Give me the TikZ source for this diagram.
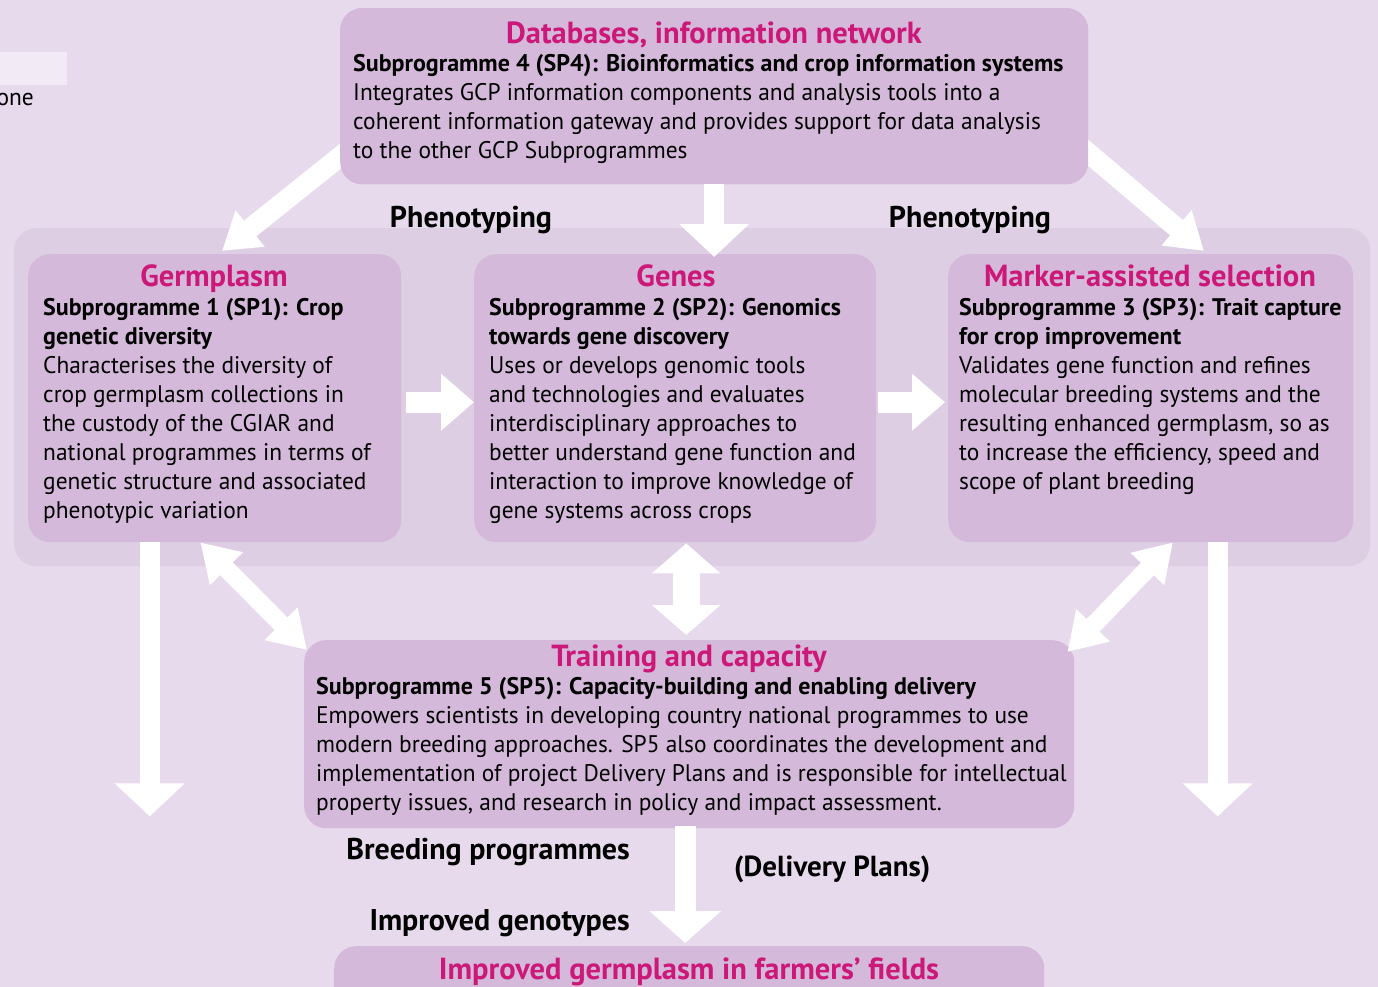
\documentclass[tikz,border=0pt]{standalone}
\usepackage{fontspec}
\setmainfont{PT Sans}[UprightFeatures={FakeStretch=0.975}]
\usetikzlibrary{arrows.meta}
\definecolor{bgc}{HTML}{E6DAEC}
\definecolor{bandc}{HTML}{DDCEE4}
\definecolor{boxc}{HTML}{D4B9DA}
\definecolor{magc}{HTML}{CC1878}
\definecolor{patchc}{HTML}{F2EAF4}
\newcommand\blk[1]{\vtop{\baselineskip=29pt\lineskiplimit=-100pt\halign{##\hfil\cr#1\crcr}}}
\begin{document}
\begin{tikzpicture}[x=1pt,y=-1pt,
  box/.style={fill=boxc,rounded corners=22pt,draw=none,inner sep=0pt,anchor=north west},
  ttl/.style={text=magc,font=\fontsize{30.5}{29}\selectfont\bfseries,inner sep=0pt,anchor=base},
  body/.style={font=\fontsize{24}{29}\selectfont,inner sep=0pt,anchor=base west},
  lbl/.style={font=\fontsize{30}{29}\selectfont\bfseries,inner sep=0pt},
  fat/.style={draw=white,line width=20pt,-{Triangle[length=33pt,width=68pt]}},
  diag/.style={draw=white,line width=20pt,-{Triangle[length=36pt,width=44pt]}},
  dbl/.style={draw=white,line width=18pt,{Triangle[length=37pt,width=44pt]}-{Triangle[length=37pt,width=44pt]}},
  dblv/.style={draw=white,line width=27pt,{Triangle[length=30pt,width=67pt]}-{Triangle[length=30pt,width=67pt]}}]
\useasboundingbox (0,0) rectangle (1378,987);
\fill[bgc] (0,0) rectangle (1378,987);
\fill[patchc] (0,52) rectangle (67,85);
\node[body,anchor=base east] (one) at (34,106) {one};
% band
\node[box,fill=bandc,minimum width=1356pt,minimum height=338pt] (band) at (14,228) {};
% tips of top arrows
\coordinate (tipL) at (222,251);
\coordinate (tipR) at (1204,251);
% top box
\node[box,minimum width=748pt,minimum height=176pt] (top) at (340,8) {};
\draw[diag] ([shift={(8,54)}]top.west) -- (tipL);
\draw[diag] ([shift={(-8,50)}]top.east) -- (tipR);
\node[box,minimum width=748pt,minimum height=176pt] (top2) at (340,8) {};
% three boxes
\node[box,minimum width=373pt,minimum height=288pt] (sp1) at (28,254) {};
\node[box,minimum width=402pt,minimum height=288pt] (sp2) at (474,254) {};
\node[box,minimum width=405pt,minimum height=288pt] (sp3) at (948,254) {};
% training
\node[box,minimum width=770pt,minimum height=188pt] (sp5) at (304,640) {};
% bottom
\node[box,minimum width=710pt,minimum height=80pt] (farm) at (334,946) {};
% texts top
\node[ttl] (t4) at (714,44) {Databases, information network};
\node[body] (b4) at (353,72) {\blk{\textbf{Subprogramme 4 (SP4): Bioinformatics and crop information systems}\cr
Integrates GCP information components and analysis tools into a\cr
coherent information gateway and provides support for data analysis\cr
to the other GCP Subprogrammes}};
\node[ttl] (t1) at (214,286) {Germplasm};
\node[body] (b1) at (43,315) {\blk{\textbf{Subprogramme 1 (SP1): Crop}\cr
\textbf{genetic diversity}\cr
Characterises the diversity of\cr
crop germplasm collections in\cr
the custody of the CGIAR and\cr
national programmes in terms of\cr
genetic structure and associated\cr
phenotypic variation}};
\node[ttl] (t2) at (676,286) {Genes};
\node[body] (b2) at (489,315) {\blk{\textbf{Subprogramme 2 (SP2): Genomics}\cr
\textbf{towards gene discovery}\cr
Uses or develops genomic tools\cr
and technologies and evaluates\cr
interdisciplinary approaches to\cr
better understand gene function and\cr
interaction to improve knowledge of\cr
gene systems across crops}};
\node[ttl] (t3) at (1150,286) {Marker-assisted selection};
\node[body] (b3) at (959,315) {\blk{\textbf{Subprogramme 3 (SP3): Trait capture}\cr
\textbf{for crop improvement}\cr
Validates gene function and refines\cr
molecular breeding systems and the\cr
resulting enhanced germplasm, so as\cr
to increase the efficiency, speed and\cr
scope of plant breeding}};
\node[ttl] (t5) at (689,666) {Training and capacity};
\node[body] (b5) at (316,694) {\blk{\textbf{Subprogramme 5 (SP5): Capacity-building and enabling delivery}\cr
Empowers scientists in developing country national programmes to use\cr
modern breeding approaches. SP5 also coordinates the development and\cr
implementation of project Delivery Plans and is responsible for intellectual\cr
property issues, and research in policy and impact assessment.}};
\node[ttl] (t6) at (689,979) {Improved germplasm in farmers’ fields};
% labels
\node[lbl,anchor=base] (ph1) at (471,227) {Phenotyping};
\node[lbl,anchor=base] (ph2) at (970,227) {Phenotyping};
\node[lbl,anchor=base east] (bp) at (630,859) {Breeding programmes};
\node[lbl,anchor=base east] (ig) at (630,930) {Improved genotypes};
\node[lbl,anchor=base west,font=\fontsize{29}{29}\selectfont\bfseries] (dp) at (734,876) {(Delivery Plans)};
% arrows
\draw[fat] (top.south) -- ([shift={(0,3)}]top.south |- sp2.north);
\draw[fat,line width=21pt,-{Triangle[length=33pt,width=55pt]}] ([shift={(5,4)}]sp1.east) -- ([shift={(0,4)}]sp2.west);
\draw[fat,line width=21pt,-{Triangle[length=33pt,width=55pt]}] ([shift={(2,4)}]sp2.east) -- ([shift={(-3,4)}]sp3.west);
\draw[fat] ([shift={(-65,0)}]sp1.south) -- ([shift={(-65,274)}]sp1.south);
\draw[fat] ([shift={(67,0)}]sp3.south) -- ([shift={(67,274)}]sp3.south);
\draw[dbl] ([shift={(-201,0)}]sp1.south east) -- ([shift={(3,10)}]sp5.north west);
\draw[dbl] ([shift={(225,0)}]sp3.south west) -- ([shift={(-7,12)}]sp5.north east);
\draw[dblv] ([shift={(11,1)}]sp2.south) -- ([shift={(-3,-5)}]sp5.north);
\draw[fat,line width=21pt,-{Triangle[length=32pt,width=70pt]}] ([shift={(-4,-2)}]sp5.south) -- ([shift={(-4,-3)}]farm.north);
\end{tikzpicture}
\end{document}
